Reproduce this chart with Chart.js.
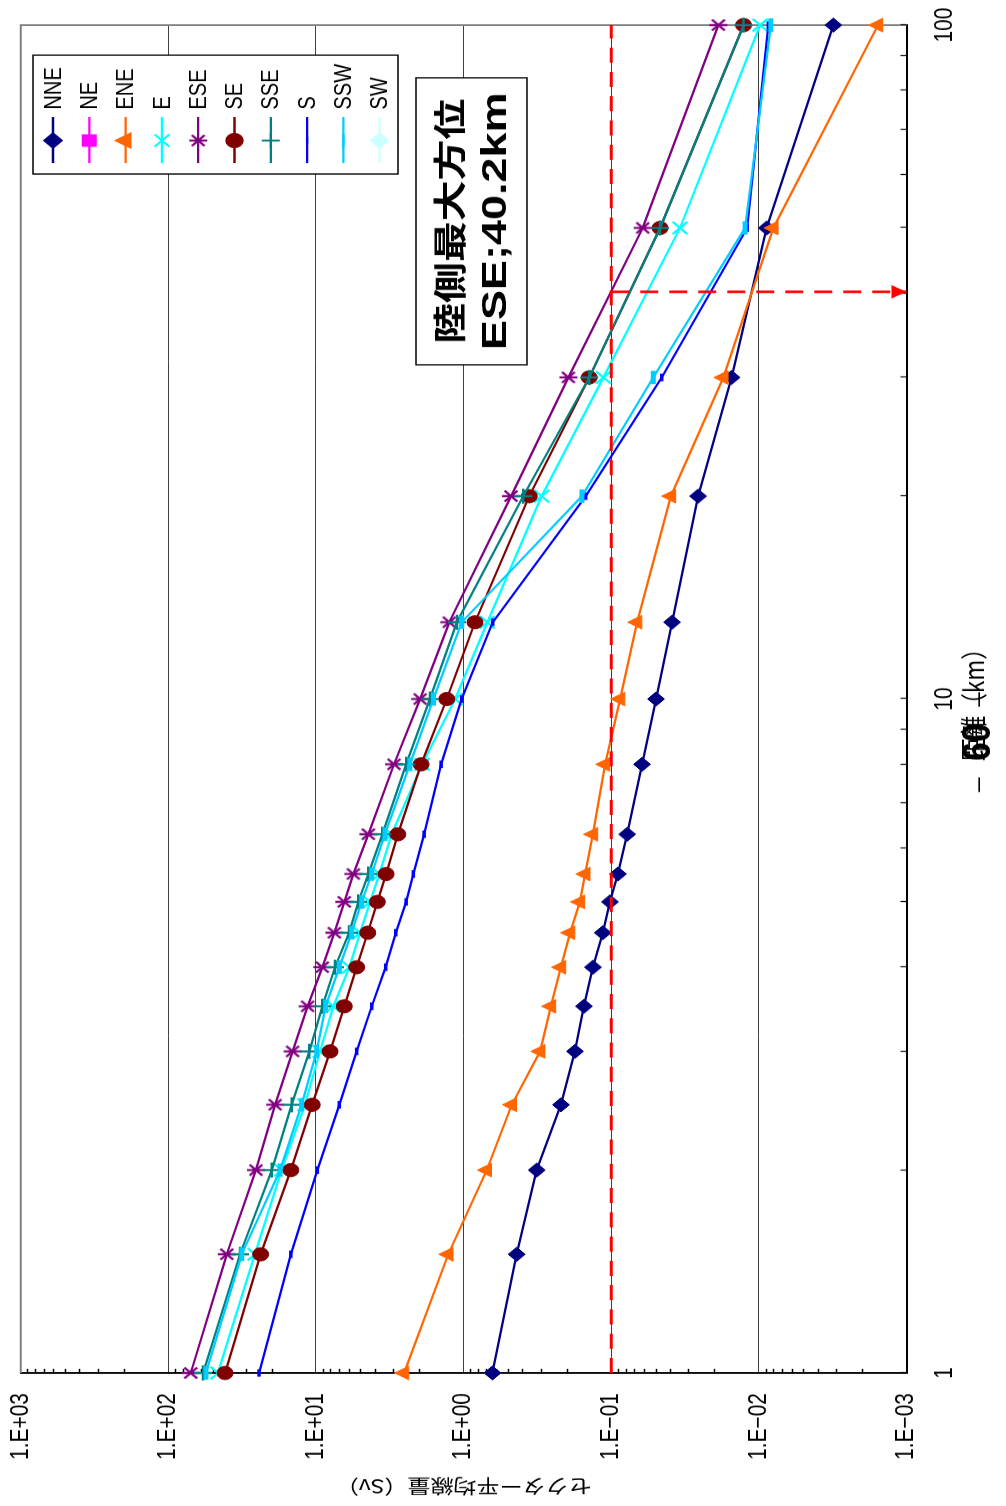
<!DOCTYPE html>
<html>
<head>
<meta charset="utf-8">
<script src="https://cdn.jsdelivr.net/npm/chart.js@4.4.1/dist/chart.umd.min.js"></script>
<style>
  html, body { margin: 0; padding: 0; background: #fff; overflow: hidden; }
  #page { position: relative; width: 1006px; height: 1506px; overflow: hidden; background: #fff; }
  /* the figure is laid out landscape and turned a quarter turn on the page */
  #sheet { position: absolute; left: 0; top: 0; width: 1800px; height: 1006px;
           transform-origin: 0 0; transform: translate(0px, 1506px) rotate(-90deg) scaleX(0.83667); }
</style>
</head>
<body>
<div id="page"><div id="sheet"><canvas id="c" width="1800" height="1006"></canvas></div></div>
<script>
// distance from the site (km)
const distanceKm = [1, 1.5, 2, 2.5, 3, 3.5, 4, 4.5, 5, 5.5, 6.3, 8, 10, 13, 20, 30, 50, 100];

// sector-averaged dose (Sv) per downwind sector
const sectorNames = ['NNE', 'NE', 'ENE', 'E', 'ESE', 'SE', 'SSE', 'S', 'SSW', 'SW'];
const doseNNE = [0.638, 0.437, 0.320, 0.219, 0.176, 0.153, 0.133, 0.114, 0.102, 0.090, 0.078, 0.0618, 0.0497, 0.0387, 0.0258, 0.0153, 0.00885, 0.00313];
const doseNE  = [];
const doseENE = [2.53, 1.27, 0.697, 0.472, 0.303, 0.256, 0.219, 0.190, 0.163, 0.150, 0.133, 0.110, 0.0871, 0.0668, 0.0394, 0.0174, 0.00798, 0.00156];
const doseE   = [46.1, 25.9, 17.1, 11.9, 9.39, 7.63, 5.94, 5.03, 4.30, 3.72, 3.07, 1.91, 1.14, 0.691, 0.296, 0.113, 0.0342, 0.0098];
const doseESE = [70.5, 40.2, 25.5, 18.9, 14.4, 11.4, 9.06, 7.51, 6.43, 5.58, 4.42, 2.96, 1.97, 1.25, 0.477, 0.195, 0.0612, 0.0188];
const doseSE  = [41.3, 23.7, 14.8, 10.6, 8.03, 6.43, 5.30, 4.46, 3.84, 3.35, 2.79, 1.94, 1.30, 0.837, 0.359, 0.141, 0.0467, 0.0127];
const doseSSE = [58.2, 32.7, 19.9, 14.6, 11.1, 9.06, 7.43, 5.97, 5.17, 4.42, 3.55, 2.45, 1.69, 1.11, 0.394, 0.141, 0.0467, 0.0127];
const doseS   = [24.3, 14.8, 9.79, 6.95, 5.30, 4.19, 3.37, 2.88, 2.45, 2.19, 1.85, 1.42, 1.03, 0.635, 0.149, 0.0455, 0.0120, 0.00863];
const doseSSW = [55.6, 31.8, 17.5, 12.5, 9.88, 8.59, 6.95, 5.73, 4.90, 4.19, 3.41, 2.31, 1.60, 1.03, 0.158, 0.0519, 0.0124, 0.0083];
const doseSW  = [];

// axis ticks
const doseTickValues = [1e-3, 1e-2, 1e-1, 1, 10, 100, 1000];
const doseTickLabels = ['1.E\u221203', '1.E\u221202', '1.E\u221201', '1.E+00', '1.E+01', '1.E+02', '1.E+03'];
const distanceTickValues = [1, 10, 100];
const distanceTickLabels = ['1', '10', '100'];

// reference level and the land-side maximum sector result
const limitDose = 0.1;
const landMaxDistance = 40.2;
const landMaxText = ['陸側最大方位', 'ESE;40.2km'];
const pageNumber = '60';

const doseBySector = [doseNNE, doseNE, doseENE, doseE, doseESE, doseSE, doseSSE, doseS, doseSSW, doseSW];

// asterisk marker: an x with a vertical stroke
function makeAsterisk(color, size, lw) {
  const c = document.createElement('canvas');
  c.width = size; c.height = size;
  const g = c.getContext('2d');
  g.strokeStyle = color; g.lineWidth = lw;
  const m = size / 2, r = size / 2 - 1, d = r * 0.72;
  g.beginPath();
  g.moveTo(m, m - r); g.lineTo(m, m + r);
  g.moveTo(m - d, m - d); g.lineTo(m + d, m + d);
  g.moveTo(m - d, m + d); g.lineTo(m + d, m - d);
  g.stroke();
  return c;
}

const sectorStyles = [
  { color: '#000080', pointStyle: 'rectRot',  radius: 8.5, pbw: 1 },
  { color: '#FF00FF', pointStyle: 'rect',     radius: 9,   pbw: 1 },
  { color: '#FF6600', pointStyle: 'triangle', radius: 9.5, pbw: 1 },
  { color: '#00FFFF', pointStyle: 'crossRot', radius: 10.5, pbw: 2.5 },
  { color: '#800080', pointStyle: makeAsterisk('#800080', 20, 2.5), radius: 8, pbw: 2.5 },
  { color: '#800000', pointStyle: 'circle',   radius: 8,   pbw: 1 },
  { color: '#008080', pointStyle: 'cross',    radius: 9,   pbw: 2.5 },
  { color: '#0000FF', pointStyle: 'line',     radius: 4.5, pbw: 3.5 },
  { color: '#00CCFF', pointStyle: 'line',     radius: 8,   pbw: 5 },
  { color: '#CCFFFF', pointStyle: 'rectRot',  radius: 8.5, pbw: 1 }
];

const sectorDatasets = sectorNames.map((name, i) => ({
  label: name,
  data: doseBySector[i].map((v, k) => ({ x: distanceKm[k], y: v })),
  borderColor: sectorStyles[i].color,
  backgroundColor: sectorStyles[i].color,
  pointBackgroundColor: sectorStyles[i].color,
  pointBorderColor: sectorStyles[i].color,
  pointStyle: sectorStyles[i].pointStyle,
  pointRadius: sectorStyles[i].radius,
  pointBorderWidth: sectorStyles[i].pbw,
  borderWidth: 2.3,
  tension: 0,
  fill: false,
  clip: false,
  order: sectorNames.length - i
}));

const refDatasets = [
  { label: 'limit',
    data: [{ x: distanceKm[0], y: limitDose }, { x: distanceKm[distanceKm.length - 1], y: limitDose }],
    borderColor: '#FF0000', borderWidth: 3, borderDash: [18, 11], pointRadius: 0, clip: false, order: -1 },
  { label: 'landMax',
    data: [{ x: landMaxDistance, y: limitDose }, { x: landMaxDistance, y: doseTickValues[0] }],
    borderColor: '#FF0000', borderWidth: 3, borderDash: [18, 11], pointRadius: 0, clip: false, order: -1 }
];

function noScalePadding(s) {
  s.paddingTop = 0; s.paddingBottom = 0; s.paddingLeft = 0; s.paddingRight = 0;
}

// plot frame, minor ticks, arrowhead
const framePlugin = {
  id: 'frame',
  beforeDatasetsDraw(chart) {
    const { ctx, chartArea: a } = chart;
    const xs = chart.scales.x, ys = chart.scales.y;
    ctx.save();
    ctx.strokeStyle = '#808080'; ctx.lineWidth = 2;
    ctx.beginPath();
    ctx.moveTo(a.left, a.top); ctx.lineTo(a.right, a.top); ctx.lineTo(a.right, a.bottom);
    ctx.stroke();
    ctx.strokeStyle = '#000'; ctx.lineWidth = 1.3;
    ctx.beginPath();
    for (let d = 1e-3; d < 999; d *= 10) {
      for (let m = 2; m <= 9; m++) {
        const y = Math.round(ys.getPixelForValue(m * d)) + 0.5;
        ctx.moveTo(a.left, y); ctx.lineTo(a.left + 5, y);
      }
    }
    for (let d = 1; d < 99; d *= 10) {
      for (let m = 1; m <= 10; m++) {
        const x = Math.round(xs.getPixelForValue(m * d)) + 0.5;
        ctx.moveTo(x, a.bottom); ctx.lineTo(x, a.bottom - 6);
      }
    }
    ctx.stroke();
    ctx.restore();
  },
  afterDatasetsDraw(chart) {
    const { ctx, chartArea: a } = chart;
    const xs = chart.scales.x;
    const x = xs.getPixelForValue(landMaxDistance);
    ctx.save();
    ctx.fillStyle = '#FF0000';
    ctx.beginPath();
    ctx.moveTo(x, a.bottom);
    ctx.lineTo(x - 8, a.bottom - 15);
    ctx.lineTo(x + 8, a.bottom - 15);
    ctx.closePath();
    ctx.fill();
    ctx.restore();
  }
};

// legend box with the ten sectors
const legendPlugin = {
  id: 'sectorLegend',
  afterDatasetsDraw(chart) {
    const ctx = chart.ctx;
    const box = { l: 1592, r: 1734, t: 33, b: 398 };
    ctx.save();
    ctx.fillStyle = '#fff';
    ctx.fillRect(box.l, box.t, box.r - box.l, box.b - box.t);
    ctx.strokeStyle = '#000'; ctx.lineWidth = 1.5;
    ctx.strokeRect(box.l, box.t, box.r - box.l, box.b - box.t);
    ctx.font = '24px "Liberation Sans", Arial, sans-serif';
    ctx.textAlign = 'left'; ctx.textBaseline = 'middle';
    sectorNames.forEach((name, i) => {
      const st = sectorStyles[i];
      const y = 53 + i * 36.3;
      ctx.strokeStyle = st.color; ctx.lineWidth = 2.3;
      ctx.beginPath(); ctx.moveTo(1605, y); ctx.lineTo(1660, y); ctx.stroke();
      ctx.fillStyle = st.color; ctx.strokeStyle = st.color;
      Chart.helpers.drawPoint(ctx, { pointStyle: st.pointStyle, radius: st.radius, borderWidth: st.pbw, rotation: 0 }, 1632, y);
      ctx.fillStyle = '#000';
      ctx.fillText(name, 1669, y + 1);
    });
    ctx.restore();
  }
};

// annotation box and page number
const notePlugin = {
  id: 'note',
  afterDraw(chart) {
    const ctx = chart.ctx;
    const box = { l: 1364, r: 1707, t: 416, b: 527 };
    const cx = (box.l + box.r) / 2;
    ctx.save();
    ctx.fillStyle = '#fff';
    ctx.fillRect(box.l, box.t, box.r - box.l, box.b - box.t);
    ctx.strokeStyle = '#000'; ctx.lineWidth = 1.5;
    ctx.strokeRect(box.l, box.t, box.r - box.l, box.b - box.t);
    ctx.fillStyle = '#000';
    ctx.textAlign = 'center'; ctx.textBaseline = 'middle';
    const lines = [
      { text: landMaxText[0], font: 'bold 33px "Noto Sans CJK JP", sans-serif', y: 449, w: 293 },
      { text: landMaxText[1], font: 'bold 35px "Liberation Sans", Arial, sans-serif', y: 496, w: 308 }
    ];
    lines.forEach(L => {
      ctx.font = L.font;
      const natural = ctx.measureText(L.text).width;
      ctx.save();
      ctx.translate(cx, L.y);
      ctx.scale(L.w / natural, 1);
      ctx.fillText(L.text, 0, 0);
      ctx.restore();
    });
    // page number  － 60 －
    ctx.font = '24px "Noto Sans CJK JP", sans-serif';
    ctx.fillText('－', 862, 979);
    ctx.fillText('－', 964, 979);
    ctx.font = 'bold 40px "Liberation Sans", Arial, sans-serif';
    ctx.fillText(pageNumber, 913, 979);
    ctx.restore();
  }
};

new Chart(document.getElementById('c'), {
  type: 'line',
  data: { datasets: sectorDatasets.concat(refDatasets) },
  options: {
    responsive: false,
    devicePixelRatio: 1,
    animation: false,
    layout: { padding: { top: 20.7, right: 30, left: 0, bottom: 0 } },
    plugins: { legend: { display: false }, tooltip: { enabled: false } },
    scales: {
      x: {
        type: 'logarithmic', position: 'bottom', min: 1, max: 100,
        afterBuildTicks(s) { s.ticks = distanceTickValues.map(v => ({ value: v })); },
        afterFit(s) { s.height = 99.5; noScalePadding(s); },
        ticks: {
          callback: (v) => { const k = distanceTickValues.indexOf(v); return k >= 0 ? distanceTickLabels[k] : ''; },
          font: { family: '"Liberation Sans", Arial, sans-serif', size: 25 },
          color: '#000', padding: 16, maxRotation: 0, autoSkip: false
        },
        grid: { display: false },
        border: { display: true, color: '#000', width: 2 },
        title: { display: true, text: '距離（km）', color: '#000',
                 font: { family: '"Noto Sans CJK JP", sans-serif', size: 27 }, padding: { top: 0, bottom: 16 } }
      },
      y: {
        type: 'logarithmic', position: 'left', min: 1e-3, max: 1e3,
        afterBuildTicks(s) { s.ticks = doseTickValues.map(v => ({ value: v })); },
        afterFit(s) { s.width = 159; noScalePadding(s); },
        ticks: {
          callback: (v) => { const k = doseTickValues.indexOf(v); return k >= 0 ? doseTickLabels[k] : ''; },
          font: { family: '"Liberation Sans", Arial, sans-serif', size: 25 },
          color: '#000', padding: 24, autoSkip: false
        },
        grid: { color: '#404040', lineWidth: 1, drawTicks: false },
        border: { display: true, color: '#000', width: 2 },
        title: { display: true, text: 'セクター平均線量（Sv）', color: '#000',
                 font: { family: '"Noto Sans CJK JP", sans-serif', size: 23 }, padding: { top: 9, bottom: 0 } }
      }
    }
  },
  plugins: [framePlugin, legendPlugin, notePlugin]
});
</script>
</body>
</html>
